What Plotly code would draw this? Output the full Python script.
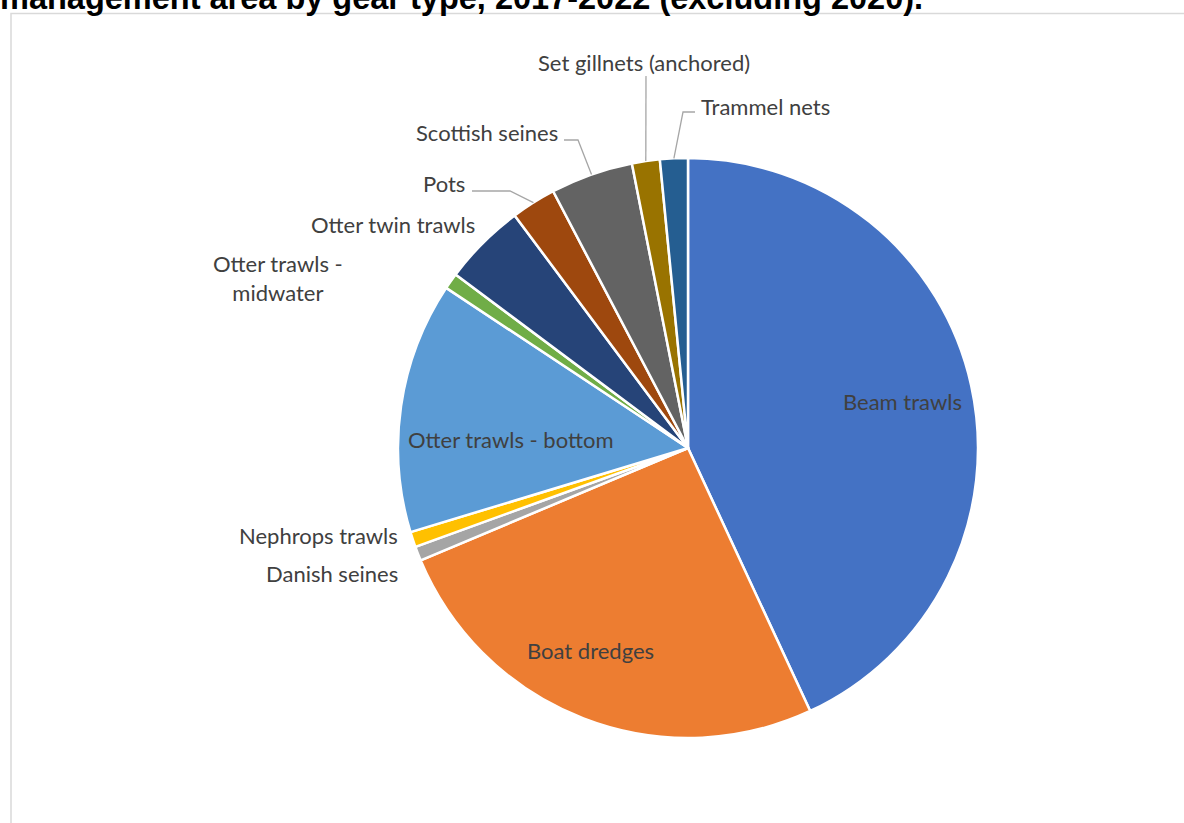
import math
import plotly.graph_objects as go

# ---- data ----
gear_types = ["Beam trawls", "Boat dredges", "Danish seines", "Nephrops trawls",
              "Otter trawls - bottom", "Otter trawls - midwater", "Otter twin trawls",
              "Pots", "Scottish seines", "Set gillnets (anchored)", "Trammel nets"]
share_pct = [43.1, 25.6, 0.8, 0.85, 14.0, 0.9, 4.6, 2.5, 4.6, 1.55, 1.55]
slice_colors = ["#4472C4", "#ED7D31", "#A5A5A5", "#FFC000", "#5B9BD5", "#70AD47",
                "#264478", "#9E480E", "#636363", "#997300", "#255E91"]
title_text = "management area by gear type, 2017-2022 (excluding 2020)."

# ---- layout constants (page pixels) ----
W, H = 1184, 823
CX, CY, R = 688, 448, 290


def px(x):
    return x / W


def py(y):
    return 1 - y / H


# label placement: (x, y, xanchor, leader-style)
label_layout = {
    "Beam trawls": (902, 401, "center", None),
    "Boat dredges": (590, 650, "center", None),
    "Otter trawls - bottom": (511, 439, "center", None),
    "Danish seines": (400, 573, "right", None),
    "Nephrops trawls": (400, 535, "right", None),
    "Otter trawls - midwater": (278, 278, "center", None),
    "Otter twin trawls": (477, 224, "right", None),
    "Pots": (467, 184, "right", ("elbow", 472, 191, 510)),
    "Scottish seines": (560, 133, "right", ("elbow", 564, 140, 578)),
    "Set gillnets (anchored)": (644, 62, "center", ("vert", 646, 76, None)),
    "Trammel nets": (699, 106, "left", ("elbow", 695, 112, 683)),
}

total = sum(share_pct)
mid_angle = {}
acc = 0.0
for name, v in zip(gear_types, share_pct):
    a0 = acc / total * 360
    acc += v
    a1 = acc / total * 360
    mid_angle[name] = (a0 + a1) / 2

fig = go.Figure()
fig.add_trace(go.Pie(
    labels=gear_types,
    values=share_pct,
    sort=False,
    direction="clockwise",
    rotation=0,
    marker=dict(colors=slice_colors, line=dict(color="white", width=2.5)),
    textinfo="none",
    showlegend=False,
    domain=dict(x=[px(CX - R), px(CX + R)], y=[py(CY + R), py(CY - R)]),
))

annotations = []
shapes = []
label_font = dict(family="Lato, Carlito, sans-serif", size=22, color="#404040")
for name in gear_types:
    lx, ly, anchor, leader = label_layout[name]
    text = name
    if name == "Otter trawls - midwater":
        text = "Otter trawls -<br>midwater"
    annotations.append(dict(
        x=px(lx), y=py(ly), xref="paper", yref="paper", text=text,
        showarrow=False, xanchor=anchor, yanchor="middle", font=label_font,
        align="center",
    ))
    if leader:
        ang = math.radians(mid_angle[name])
        ex = CX + R * math.sin(ang)
        ey = CY - R * math.cos(ang)
        kind, sx, sy, elbow_x = leader
        if kind == "vert":
            path = f"M {px(sx)} {py(sy)} L {px(ex)} {py(ey)}"
        else:
            path = (f"M {px(sx)} {py(sy)} L {px(elbow_x)} {py(sy)} "
                    f"L {px(ex)} {py(ey)}")
        shapes.append(dict(type="path", path=path, xref="paper", yref="paper",
                           line=dict(color="#A6A6A6", width=1.3)))

# frame around chart
shapes.append(dict(type="rect", xref="paper", yref="paper",
                   x0=px(11), x1=1.02, y0=-0.02, y1=py(13.5),
                   line=dict(color="#D9D9D9", width=1.5), fillcolor="rgba(0,0,0,0)",
                   layer="below"))

# cut-off title (only its lower part is visible, as in the source)
annotations.append(dict(
    x=px(-2), y=py(18), xref="paper", yref="paper", text=f"<b>{title_text}</b>",
    showarrow=False, xanchor="left", yanchor="bottom",
    font=dict(family="Liberation Sans, Arial, sans-serif", size=32.5, color="#000000"),
))

fig.update_layout(
    width=W, height=H,
    margin=dict(l=0, r=0, t=0, b=0),
    paper_bgcolor="white", plot_bgcolor="white",
    annotations=annotations, shapes=shapes,
)

fig.write_html(
    "out.html",
    config={"displayModeBar": False},
    post_script="document.body.style.margin='0';document.body.style.overflow='hidden';",
)
